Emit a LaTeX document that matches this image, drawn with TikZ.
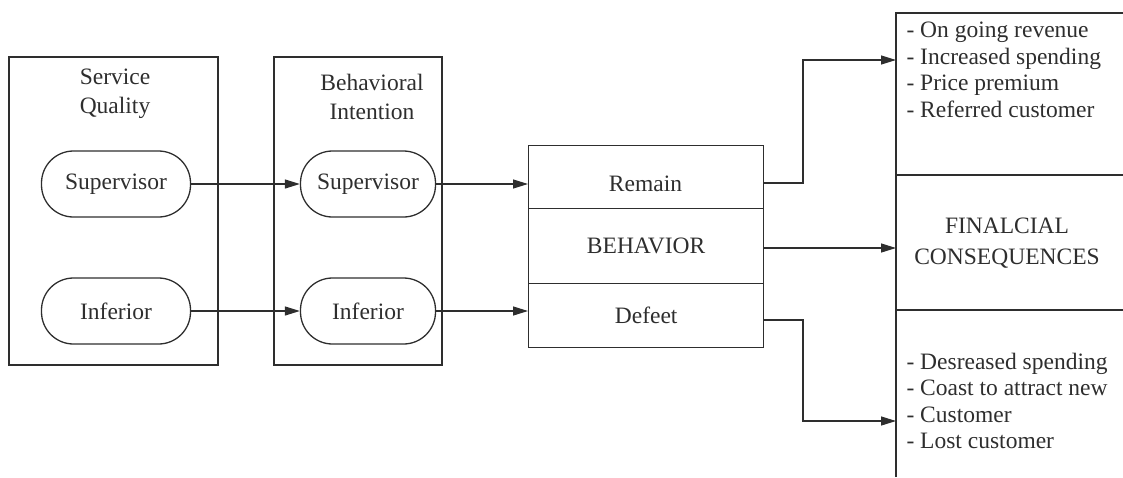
\documentclass[tikz,border=0pt]{standalone}
\usepackage{fontspec}
\setmainfont{Liberation Serif}
\usetikzlibrary{arrows.meta}
\definecolor{ink}{HTML}{2E2E2E}
\begin{document}
\begin{tikzpicture}[x=1pt,y=-1pt,
  every node/.style={text=ink,font=\fontsize{23.5}{29}\selectfont},
  listtext/.style={anchor=west,align=left,font=\fontsize{23.5}{26.5}\selectfont},
  frame/.style={draw=ink,line width=1.3pt},
  pill/.style={draw=ink,line width=1.3pt,rectangle,rounded corners=32pt,minimum height=66pt,inner sep=0pt},
  part/.style={draw=ink,line width=1.3pt,rectangle,minimum width=235pt,inner sep=0pt},
  arr/.style={draw=ink,line width=1.3pt,-{Triangle[length=15pt,width=9pt]}},
  ln/.style={draw=ink,line width=1.3pt}]
\useasboundingbox (0,0) rectangle (1123,477);
% frames
\draw[frame] (9,57) rectangle (218,365);
\draw[frame] (274,57) rectangle (442,365);
\node (sqt) [align=center] at (115,94) {Service\\Quality};
\node (bit) [align=center] at (372,97) {Behavioral\\Intention};
% pills
\node[pill,minimum width=149pt] (sqs) at (116,184) {Supervisor};
\node[pill,minimum width=149pt] (sqi) at (116,311) {Inferior};
\node[pill,minimum width=135pt] (bis) at (368,184) {Supervisor};
\node[pill,minimum width=135pt] (bii) at (368,311) {Inferior};
% behavior box
\node[part,minimum height=63pt,anchor=north west] (rem) at (528,145) {};
\node at (645.5,184) {Remain};
\node[part,minimum height=75pt,anchor=north west] (beh) at (528,208) {BEHAVIOR};
\node[part,minimum height=64pt,anchor=north west] (def) at (528,283) {Defeet};
% financial box
\coordinate (fctl) at (896,13);
\coordinate (fcbl) at (896,477);
\coordinate (fctr) at (1123,13);
\draw[ln] (fcbl) -- (fctl) -- (fctr);
\draw[ln] (896,175) -- (1123,175);
\draw[ln] (896,310) -- (1123,310);
\coordinate (fc1) at (896,60);
\coordinate (fc2) at (896,248);
\coordinate (fc3) at (896,421);
\node (pos) [listtext] at (903,70) {- On going revenue\\- Increased spending\\- Price premium\\- Referred customer};
\node (fin) [align=center,font=\fontsize{23.5}{31}\selectfont] at (1007,243) {FINALCIAL\\CONSEQUENCES};
\node (neg) [listtext] at (903,401) {- Desreased spending\\- Coast to attract new\\- Customer\\- Lost customer};
% connectors
\draw[arr] (sqs.east) -- (bis.west);
\draw[arr] (sqi.east) -- (bii.west);
\draw[arr] (bis.east) -- (rem.west |- bis.east);
\draw[arr] (bii.east) -- (def.west |- bii.east);
\draw[arr] (rem.east |- 0,183) -- (803,183) |- (fc1);
\draw[arr] (beh.east |- fc2) -- (fc2);
\draw[arr] (def.east |- 0,320) -- (803,320) |- (fc3);
\end{tikzpicture}
\end{document}
